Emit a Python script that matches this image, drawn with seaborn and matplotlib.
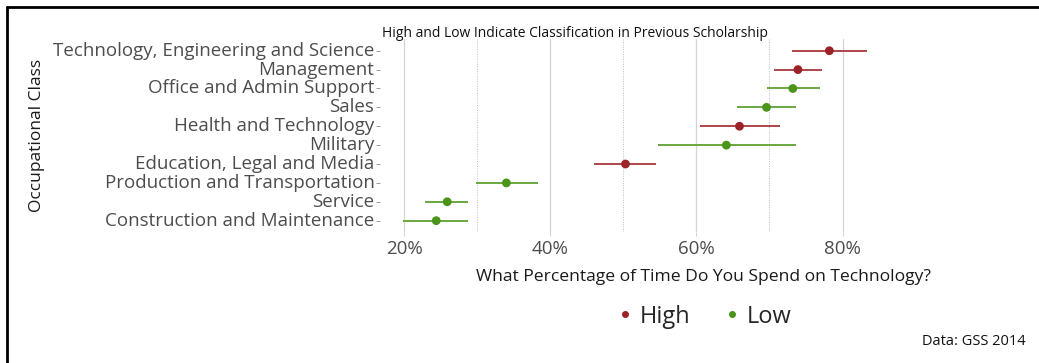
import matplotlib
matplotlib.use("Agg")
import matplotlib.pyplot as plt
import matplotlib.lines as mlines
import seaborn as sns
import pandas as pd

# Occupational classes, listed top to bottom
occupations = [
    "Technology, Engineering and Science",
    "Management",
    "Office and Admin Support",
    "Sales",
    "Health and Technology",
    "Military",
    "Education, Legal and Media",
    "Production and Transportation",
    "Service",
    "Construction and Maintenance",
]
# Prior classification of each occupational class
classification = ["High", "High", "Low", "Low", "High", "Low", "High", "Low", "Low", "Low"]
# Mean share of time spent on technology (%) with interval bounds
mean_pct = [78.2, 73.9, 73.2, 69.6, 65.9, 64.1, 50.3, 34.0, 25.9, 24.4]
low_pct = [73.1, 70.6, 69.7, 65.5, 60.5, 54.7, 46.0, 29.8, 22.9, 19.9]
high_pct = [83.3, 77.2, 76.9, 73.7, 71.4, 73.6, 54.5, 38.3, 28.8, 28.8]

x_ticks = [20, 40, 60, 80]
x_minor = [30, 50, 70]

palette = {"High": "#9b2226", "Low": "#4a9419"}
line_palette = {"High": "#b04448", "Low": "#69a83f"}

df = pd.DataFrame({
    "occupation": occupations,
    "group": classification,
    "mean": mean_pct,
    "lo": low_pct,
    "hi": high_pct,
})

sns.set_theme(style="white")
plt.rcParams["font.family"] = ["Open Sans", "DejaVu Sans"]

fig = plt.figure(figsize=(10.39, 3.63), dpi=100)
ax = fig.add_axes([0.3657, 0.3609, 0.4909, 0.5306])

# grid: solid majors, dotted minors
for v in x_ticks:
    ax.axvline(v, color="#d4d4d4", lw=0.9, zorder=0)
for v in x_minor:
    ax.axvline(v, color="#bdbdbd", lw=0.7, ls=(0, (1, 1.5)), zorder=0)

# interval lines
for _, r in df.iterrows():
    ax.plot([r["lo"], r["hi"]], [r["occupation"], r["occupation"]],
            color=line_palette[r["group"]], lw=1.4, zorder=2, solid_capstyle="butt")

sns.scatterplot(data=df, x="mean", y="occupation", hue="group", palette=palette,
                s=40, edgecolor="none", ax=ax, zorder=3, legend=False)

ax.set_xlim(16.7, 86.5)
ax.set_ylim(len(occupations) - 0.4, -0.6)
ax.set_xticks(x_ticks)
ax.set_xticklabels([f"{v}%" for v in x_ticks], fontsize=13.5, color="#4d4d4d")
ax.tick_params(axis="y", labelsize=13.5, labelcolor="#4d4d4d", length=3, width=0.6,
               color="#8a8a8a", pad=1, left=True)
ax.tick_params(axis="x", length=3, width=0.6, color="#c8c8c8", pad=3, bottom=True)
for s in ax.spines.values():
    s.set_visible(False)
for lab in ax.get_yticklabels():
    lab.set_va("center")

ax.set_xlabel("")
ax.set_ylabel("Occupational Class", fontsize=12.5, color="#1a1a1a")
ax.yaxis.set_label_coords(-0.657, 0.5)
ax.set_title("High and Low Indicate Classification in Previous Scholarship",
             fontsize=10, loc="left", x=0.004, pad=2, color="#111111")

fig.text(0.677, 0.237, "What Percentage of Time Do You Spend on Technology?",
         ha="center", va="center", fontsize=12.6, color="#1a1a1a")

handles = [mlines.Line2D([], [], color=palette[k], marker="o", ls="none", markersize=4)
           for k in ["High", "Low"]]
leg = fig.legend(handles, ["High", "Low"], loc="center", bbox_to_anchor=(0.676, 0.128),
                 ncol=2, frameon=False, fontsize=17, handletextpad=0.1,
                 columnspacing=1.3, handlelength=1.0)

fig.text(0.987, 0.06, "Data: GSS 2014", ha="right", va="center", fontsize=10.5,
         color="#111111")

# border along top and left
fig.add_artist(mlines.Line2D([0.0068, 1.0], [0.9807, 0.9807], transform=fig.transFigure,
                             color="black", lw=2))
fig.add_artist(mlines.Line2D([0.0068, 0.0068], [0.0, 0.9807], transform=fig.transFigure,
                             color="black", lw=2))

fig.savefig("out.png", dpi=100, facecolor="white")
